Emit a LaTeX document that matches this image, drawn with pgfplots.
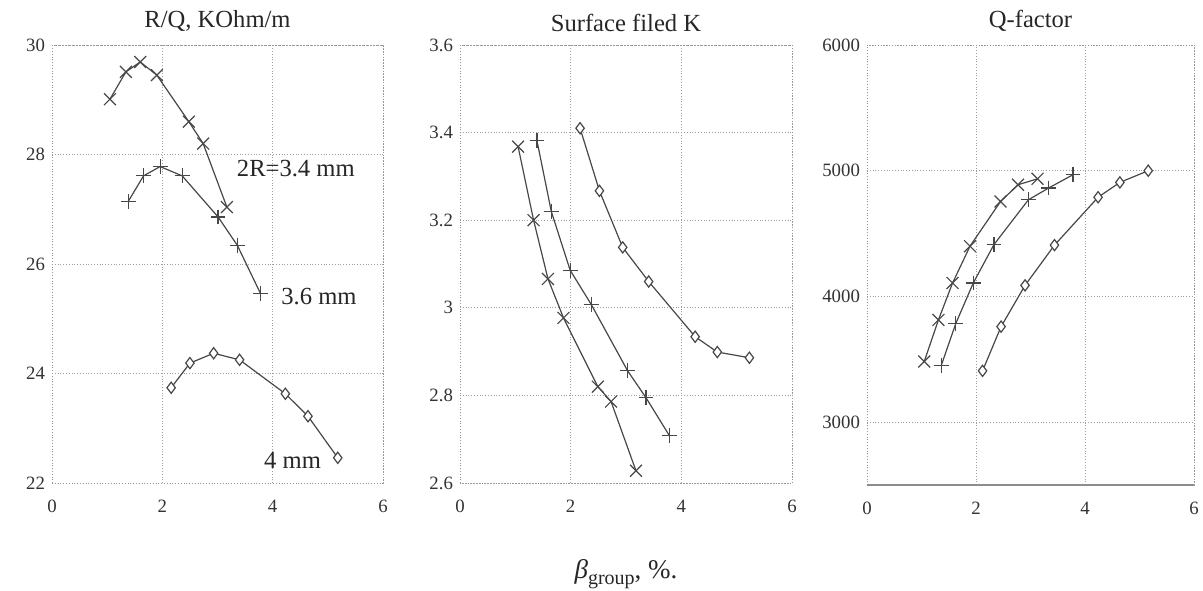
\documentclass[border=0pt]{standalone}
\usepackage{fontspec}
\setmainfont{Liberation Serif}
\usepackage{pgfplots}
\pgfplotsset{compat=1.18}

\pgfplotsset{
  panel/.style={
    scale only axis, anchor=south west,
    height=219pt,
    xmin=0, xmax=6, xtick={0,2,4,6},
    grid=major,
    grid style={densely dotted, gray!75},
    axis line style={densely dotted, gray!85},
    major tick length=0pt,
    tick label style={font=\fontsize{9.4}{10}\selectfont, text=black!80},
    xticklabel style={yshift=-5pt},
    /pgf/number format/assume math mode=true,
    /pgf/number format/1000 sep={},
    title style={font=\fontsize{12.3}{14}\selectfont, text=black!85, yshift=-3pt},
    clip=false,
  },
  ser/.style={color=black!72, line width=0.6pt, mark options={solid, line width=0.6pt}},
  sx/.style={ser, mark=x, mark size=4.2pt},
  sp/.style={ser, mark=+, mark size=3.7pt},
  sd/.style={ser, mark=diamond*, mark size=2.8pt, mark options={solid, fill=white, line width=0.6pt}},
}
\tikzset{lab/.style={font=\fontsize{12.3}{14}\selectfont, text=black!85}}

\begin{document}
\begin{tikzpicture}
\path[use as bounding box] (0,0) rectangle (601.5pt,295pt);

% R/Q
\begin{axis}[panel, at={(26pt,53.5pt)}, width=165.5pt,
  ymin=22, ymax=30, ytick={22,24,26,28,30},
  title={R/Q, KOhm/m}]
\addplot[sx] coordinates {(1.05,29.01) (1.34,29.51) (1.60,29.69) (1.90,29.45) (2.48,28.60) (2.74,28.20) (3.17,27.04)};
\addplot[sp] coordinates {(1.38,27.14) (1.66,27.61) (1.96,27.78) (2.36,27.61) (3.01,26.86) (3.36,26.34) (3.78,25.46)};
\addplot[sd] coordinates {(2.16,23.74) (2.50,24.19) (2.93,24.37) (3.40,24.25) (4.23,23.63) (4.64,23.22) (5.18,22.46)};
\node[lab] at (axis cs:4.42,27.75) {2R=3.4 mm};
\node[lab] at (axis cs:4.84,25.41) {3.6 mm};
\node[lab] at (axis cs:4.36,22.41) {4 mm};
\end{axis}

% Surface field
\begin{axis}[panel, at={(230pt,53.5pt)}, width=166pt,
  ymin=2.6, ymax=3.6, ytick={2.6,2.8,3,3.2,3.4,3.6},
  title={Surface filed K}]
\addplot[sx] coordinates {(1.05,3.368) (1.33,3.200) (1.59,3.066) (1.87,2.977) (2.49,2.820) (2.73,2.786) (3.18,2.628)};
\addplot[sp] coordinates {(1.39,3.382) (1.65,3.220) (1.99,3.086) (2.37,3.008) (3.03,2.856) (3.36,2.795) (3.78,2.709)};
\addplot[sd] coordinates {(2.17,3.410) (2.52,3.267) (2.94,3.138) (3.41,3.060) (4.25,2.934) (4.65,2.899) (5.23,2.886)};
\end{axis}

% Q-factor
\begin{axis}[panel, at={(433.5pt,52.5pt)}, width=163.5pt, height=220pt,
  ymin=2500, ymax=6000, ytick={3000,4000,5000,6000},
  title={Q-factor}]
\draw[black!45, line width=0.8pt] (rel axis cs:0,0) -- (rel axis cs:1,0);
\addplot[sx] coordinates {(1.05,3482) (1.31,3813) (1.57,4107) (1.89,4400) (2.45,4755) (2.77,4888) (3.13,4936)};
\addplot[sp] coordinates {(1.36,3448) (1.63,3786) (1.95,4107) (2.33,4413) (2.96,4768) (3.33,4862) (3.78,4968)};
\addplot[sd] coordinates {(2.12,3408) (2.46,3760) (2.90,4088) (3.44,4408) (4.24,4789) (4.64,4907) (5.16,5000)};
\end{axis}

\node[font=\fontsize{13.5}{15}\selectfont, text=black!85] at (313pt,8pt)
  {\textit{β}\raisebox{-0.45ex}{\fontsize{10}{12}\selectfont group}, \%.};
\end{tikzpicture}
\end{document}
